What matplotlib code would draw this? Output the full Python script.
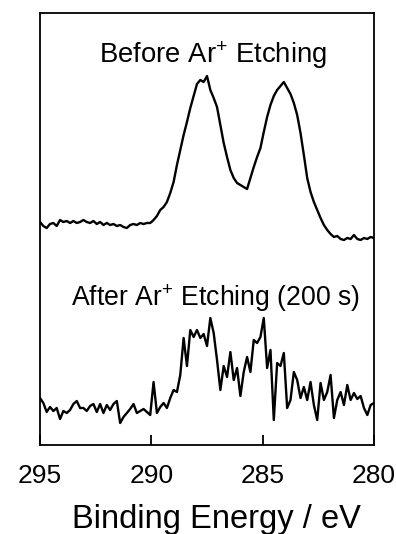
import numpy as np
import matplotlib
matplotlib.use("Agg")
import matplotlib.pyplot as plt

plt.rcParams['font.family'] = ['Liberation Sans', 'DejaVu Sans']
plt.rcParams['mathtext.fontset'] = 'custom'
plt.rcParams['mathtext.rm'] = 'Liberation Sans'
plt.rcParams['mathtext.it'] = 'Liberation Sans:italic'

# Binding energy grid (eV), 295 -> 280 in 0.15 eV steps
binding_energy = np.linspace(295, 280, 101)

# Intensity (arb. units, offset spectra)
before_etch = [
    223, 219, 217, 221, 222, 219, 225, 223, 224, 222,
    224, 222, 223, 225, 223, 222, 224, 221, 223, 220,
    222, 220, 221, 219, 220, 218, 217, 220, 221, 220,
    222, 221, 222, 222, 225, 229, 235, 238, 243, 252,
    263, 280, 295, 310, 323, 337, 349, 361, 365, 363,
    369, 355, 347, 338, 320, 302, 288, 275, 267, 262,
    260, 258, 256, 267, 278, 288, 297, 313, 328, 340,
    349, 355, 359, 363, 357, 351, 342, 330, 312, 290,
    267, 253, 243, 235, 227, 220, 215, 211, 208, 209,
    206, 205, 207, 206, 210, 206, 205, 207, 206, 208,
    207,
]

after_etch = [
    47, 42, 33, 38, 34, 37, 26, 34, 32, 35,
    41, 44, 37, 37, 34, 39, 41, 33, 41, 32,
    40, 35, 41, 44, 22, 28, 32, 36, 41, 32,
    34, 36, 33, 30, 63, 32, 38, 42, 37, 47,
    55, 53, 70, 107, 79, 115, 108, 115, 107, 111,
    99, 127, 112, 85, 55, 79, 68, 93, 65, 77,
    49, 73, 88, 73, 105, 102, 108, 127, 77, 95,
    25, 82, 79, 92, 37, 45, 73, 65, 47, 58,
    45, 63, 40, 25, 62, 45, 53, 70, 27, 45,
    53, 40, 60, 45, 52, 46, 49, 37, 30, 40,
    42,
]

xticks = [295, 290, 285, 280]
tick_labels = ['295', '290', '285', '280']

fig = plt.figure(figsize=(3.96, 5.34), dpi=100)
ax = fig.add_axes([40/396, 1 - 445/534, (374 - 40)/396, (445 - 13)/534])

ax.plot(binding_energy, before_etch, color='black', lw=1.7)
ax.plot(binding_energy, after_etch, color='black', lw=1.7)

ax.set_xlim(295, 280)
ax.set_ylim(0, 432)
ax.set_xticks(xticks)
ax.set_xticklabels(tick_labels)
ax.set_yticks([])
ax.tick_params(axis='x', direction='in', length=7, width=1.3, pad=14, labelsize=19)
for s in ax.spines.values():
    s.set_linewidth(1.3)

ax.text(287.25, 390, r'Before Ar$^{+}$ Etching', fontsize=19.8, ha='center', va='center')
ax.text(287.1, 147, r'After Ar$^{+}$ Etching (200 s)', fontsize=19.2, ha='center', va='center')

fig.text(216/396, 1 - 528/534, 'Binding Energy / eV', fontsize=23.5,
         ha='center', va='baseline')

fig.savefig('out.png', dpi=100)
